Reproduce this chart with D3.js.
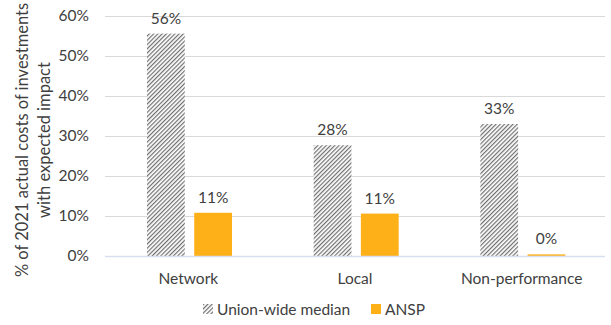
<!DOCTYPE html>
<html><head><meta charset="utf-8">
<script src="https://cdn.jsdelivr.net/npm/d3@7"></script>
<style>body{margin:0;background:#fff;} text{font-family:Lato, "Open Sans", sans-serif;}</style>
</head><body><svg id="c" width="611" height="325"></svg>
<script>
const categories = ["Network", "Local", "Non-performance"];
const seriesNames = ["Union-wide median", "ANSP"];
const unionMedian = [55.6, 27.7, 33.0];
const ansp = [10.8, 10.6, 0.4];
const valueLabels = [["56%", "28%", "33%"], ["11%", "11%", "0%"]];
const yTicks = [0, 10, 20, 30, 40, 50, 60];

const svg = d3.select("#c");
const defs = svg.append("defs");
const pat = defs.append("pattern").attr("id", "hatch").attr("patternUnits", "userSpaceOnUse")
  .attr("width", 3).attr("height", 3).attr("patternTransform", "rotate(45)");
pat.append("rect").attr("width", 3).attr("height", 3).attr("fill", "#fff");
pat.append("rect").attr("width", 1.2).attr("height", 3).attr("fill", "#6e6e6e");

const FS = 15.5;
const x = d3.scaleBand().domain(categories).range([105, 605]);
const y = d3.scaleLinear().domain([0, 60]).range([256, 16]);
const inner = d3.scaleBand().domain(seriesNames).range([42, 127]).paddingInner(0.2);

svg.append("g").selectAll("line").data(yTicks.filter(d => d > 0)).join("line")
  .attr("x1", 105).attr("x2", 605).attr("y1", d => y(d) + 0.5).attr("y2", d => y(d) + 0.5)
  .attr("stroke", "#d9d9d9").attr("stroke-width", 1);

const yAxis = d3.axisLeft(y).tickValues(yTicks).tickFormat(d => d + "%").tickSize(0).tickPadding(0);
const ya = svg.append("g").attr("transform", "translate(89,0)").call(yAxis);
ya.select(".domain").remove();
ya.selectAll("text").attr("font-size", FS).attr("fill", "#404040").attr("font-family", "Lato, sans-serif");

const series = [unionMedian, ansp];
const fills = ["url(#hatch)", "#fdb017"];
series.forEach((vals, si) => {
  svg.append("g").selectAll("rect").data(vals).join("rect")
    .attr("x", (d, i) => x(categories[i]) + inner(seriesNames[si]))
    .attr("width", inner.bandwidth())
    .attr("y", d => y(d))
    .attr("height", d => y(0) - y(d))
    .attr("fill", fills[si]);
  svg.append("g").selectAll("text").data(vals).join("text")
    .attr("x", (d, i) => x(categories[i]) + inner(seriesNames[si]) + inner.bandwidth() / 2)
    .attr("y", d => y(d) - 10)
    .attr("text-anchor", "middle").attr("font-size", FS).attr("fill", "#404040")
    .text((d, i) => valueLabels[si][i]);
});

svg.append("line").attr("x1", 105).attr("x2", 605).attr("y1", y(0) + 0.5).attr("y2", y(0) + 0.5)
  .attr("stroke", "#d6e0f0").attr("stroke-width", 1.5);

const xAxis = d3.axisBottom(x).tickSize(0).tickPadding(0);
const xa = svg.append("g").attr("transform", "translate(0,284)").call(xAxis);
xa.select(".domain").remove();
xa.selectAll("text").attr("font-size", FS).attr("fill", "#404040").attr("dy", 0).attr("font-family", "Lato, sans-serif");

const yt = svg.append("text").attr("transform", "translate(0,140) rotate(-90)")
  .attr("text-anchor", "middle").attr("font-size", 16.5).attr("fill", "#404040");
yt.append("tspan").attr("x", 0).attr("y", 28).text("% of 2021 actual costs of investments");
yt.append("tspan").attr("x", 0).attr("y", 50).text("with expected impact");

const legend = [{name: seriesNames[0], fill: "url(#hatch)", x: 203}, {name: seriesNames[1], fill: "#fdb017", x: 371}];
const lg = svg.append("g").selectAll("g").data(legend).join("g").attr("transform", d => `translate(${d.x},304)`);
lg.append("rect").attr("width", 10).attr("height", 10).attr("fill", d => d.fill);
lg.append("text").attr("x", 14).attr("y", 10.5).attr("font-size", FS).attr("fill", "#404040").text(d => d.name);
</script></body></html>
